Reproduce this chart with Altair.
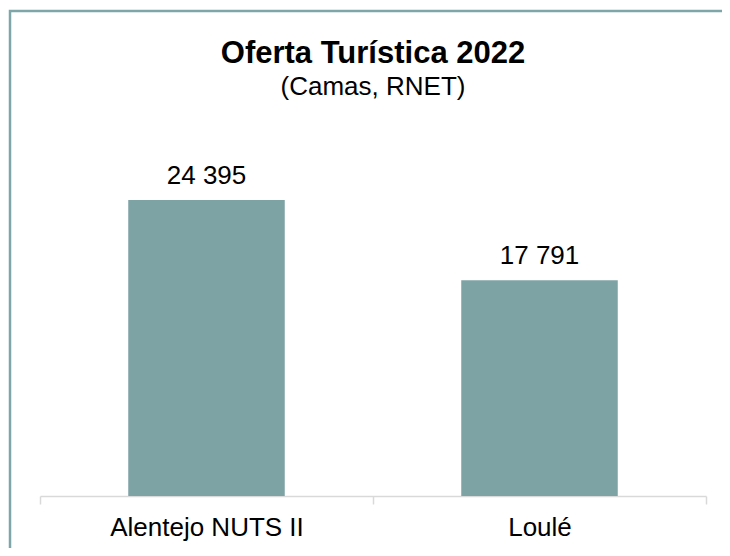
import altair as alt
import pandas as pd

categories = ["Alentejo NUTS II", "Loulé"]
values = [24395, 17791]
labels = ["24 395", "17 791"]

df = pd.DataFrame({"cat": categories, "val": values, "lab": labels})

FONT = "Liberation Sans"
BAR = "#7ea3a5"

x_enc = alt.X(
    "cat:N",
    sort=categories,
    title=None,
    scale=alt.Scale(paddingInner=0, paddingOuter=0),
    axis=alt.Axis(
        labelAngle=0,
        labelFont=FONT,
        labelFontSize=26,
        labelColor="#000000",
        labelPadding=10,
        labelLimit=500,
        domainColor="#d9d9d9",
        domainWidth=1.5,
        tickColor="#d9d9d9",
        tickWidth=1.5,
        tickSize=8,
        tickBand="extent",
        grid=False,
    ),
)
y_enc = alt.Y("val:Q", title=None, scale=alt.Scale(domain=[0, 30000]), axis=None)

base = alt.Chart(df)
bars = base.mark_bar(color=BAR, width=alt.RelativeBandSize(0.47)).encode(x=x_enc, y=y_enc)
text = base.mark_text(
    font=FONT, fontSize=26, color="#000000", baseline="alphabetic", dy=-16
).encode(x=x_enc, y=y_enc, text="lab:N")

frame = alt.Chart(pd.DataFrame({"a": [0]})).mark_rect(
    filled=False, stroke="#7ea6a8", strokeWidth=2.5
).encode(
    x=alt.value(-30), x2=alt.value(720), y=alt.value(-121), y2=alt.value(460)
)

chart = (
    alt.layer(frame, bars, text)
    .properties(
        width=666,
        height=364,
        background="#ffffff",
        autosize=alt.AutoSizeParams(type="none"),
        padding={"left": 32, "top": 124, "right": 16, "bottom": 52},
        title=alt.TitleParams(
            text="Oferta Turística 2022",
            subtitle="(Camas, RNET)",
            font=FONT,
            fontSize=31,
            fontWeight="bold",
            color="#000000",
            subtitleFont=FONT,
            subtitleFontSize=26,
            subtitleColor="#000000",
            subtitlePadding=4,
            anchor="middle",
            frame="group",
            offset=-91,
        ),
    )
    .configure_view(strokeWidth=0, stroke="transparent")
)

chart.save("out.html", embed_options={"renderer": "svg", "actions": False})
